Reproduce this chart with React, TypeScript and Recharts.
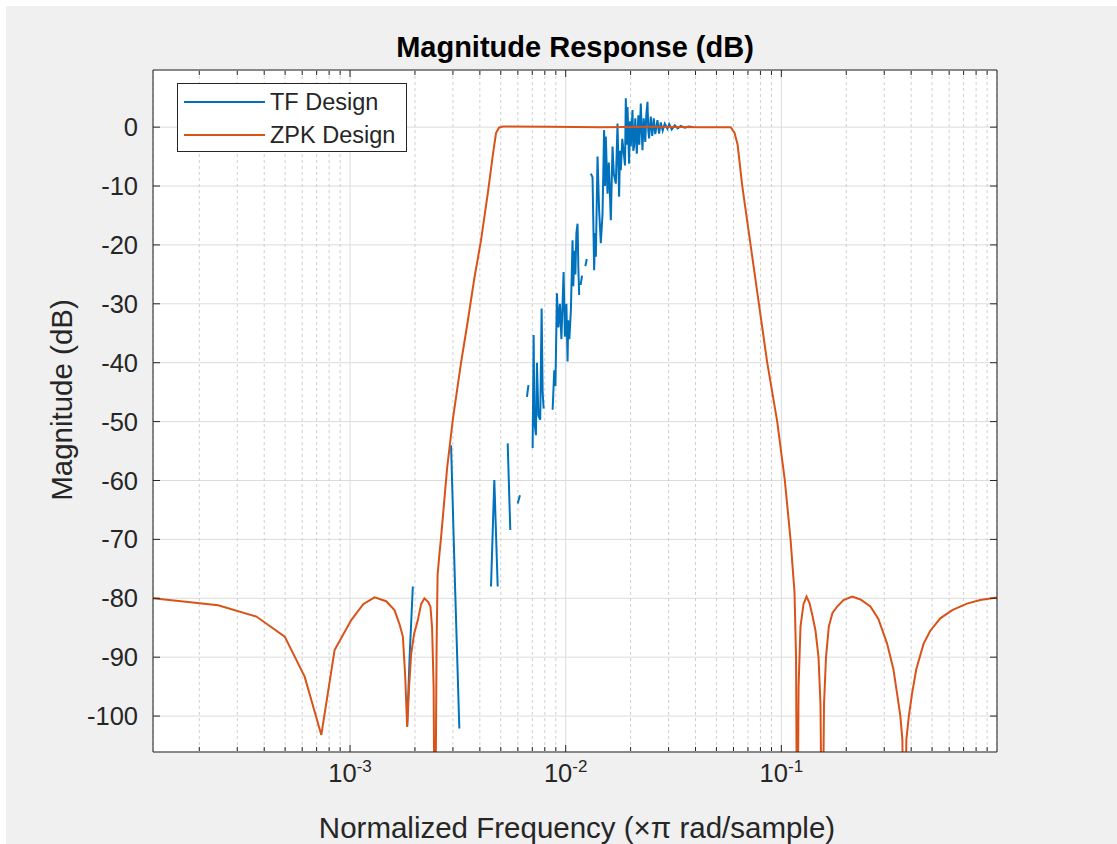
import React from 'react';
import { LineChart, Line, XAxis, YAxis, CartesianGrid, Legend } from 'recharts';

const FONT = '"Liberation Sans", Arial, Helvetica, sans-serif';
const INK = '#262626';
const TF_COLOR = '#0072BD';
const ZPK_COLOR = '#D95319';

// ZPK design: normalized frequency (x pi rad/sample) and magnitude (dB)
const ZPK_FREQ = [
  1.22e-4, 2.445e-4, 3.68e-4, 4.98e-4, 6.16e-4, 7.36e-4, 8.48e-4, 1.013e-3, 1.151e-3, 1.299e-3,
  1.471e-3, 1.607e-3, 1.699e-3, 1.758e-3, 1.801e-3, 1.84e-3, 1.879e-3, 1.92e-3, 1.983e-3, 2.063e-3,
  2.136e-3, 2.213e-3, 2.301e-3, 2.359e-3, 2.402e-3, 2.441e-3, 2.475e-3, 2.52e-3, 2.547e-3, 2.597e-3,
  2.644e-3, 2.818e-3, 2.995e-3, 3.272e-3, 3.514e-3, 3.758e-3, 4.05e-3, 4.363e-3, 4.603e-3, 4.753e-3,
  4.906e-3, 5.121e-3, 8.54e-3, 1.455e-2, 2.48e-2, 4.22e-2, 5.82e-2, 6.07e-2, 6.27e-2, 6.59e-2,
  7.2e-2, 7.87e-2, 8.6e-2, 9.57e-2, 0.1038, 0.1103, 0.1151, 0.117, 0.1185, 0.1202,
  0.1227, 0.1267, 0.1308, 0.1351, 0.1395, 0.144, 0.1487, 0.1519, 0.1547, 0.1577,
  0.1611, 0.166, 0.1726, 0.1815, 0.1941, 0.213, 0.2327, 0.2588, 0.2818, 0.3093,
  0.3307, 0.3441, 0.3564, 0.3641, 0.3719, 0.3799, 0.3902, 0.4037, 0.4226, 0.4568,
  0.4906, 0.5458, 0.6203, 0.7255, 0.8362, 1.0,
];
const ZPK_DB = [
  -80.0, -81.2, -83.1, -86.5, -93.3, -103.2, -88.8, -83.7, -81.0, -79.85,
  -80.5, -82.0, -84.5, -86.5, -93.0, -101.8, -95.0, -89.5, -86.0, -83.7,
  -81.0, -80.0, -80.6, -81.4, -85.0, -95.0, -130, -88.0, -76.0, -72.5,
  -69.6, -58.0, -49.7, -40.0, -33.0, -26.0, -19.2, -11.0, -4.5, -1.0,
  -0.1, 0.1, 0.05, 0, 0.05, 0, 0, -1, -3, -10,
  -20, -30, -40, -50, -60, -70, -79, -90, -130, -95,
  -84.8, -81, -79.7, -80.8, -83, -85.5, -90, -98, -130, -98,
  -90, -84.8, -82.5, -81.4, -80.3, -79.7, -80.2, -81.4, -83.5, -87.7,
  -92, -96.2, -100, -104, -130, -104, -100, -96.2, -92, -87.7,
  -85.5, -83.4, -82, -80.9, -80.3, -79.85,
];

// TF design: null marks a break in the trace
const TF_FREQ = [
  1.84e-3, 1.889e-3, 1.955e-3, 2.5e-3,
  2.941e-3, 3.069e-3, 3.213e-3, 3.8e-3,
  4.505e-3, 4.667e-3, 4.838e-3, 5.1e-3,
  5.383e-3, 5.535e-3, 5.75e-3,
  5.988e-3, 6.138e-3, 6.4e-3,
  6.612e-3, 6.719e-3, 6.9e-3,
  7.027e-3, 7.102e-3, 7.163e-3, 7.278e-3, 7.357e-3, 7.475e-3, 7.619e-3, 7.734e-3, 7.818e-3, 7.901e-3, 8.3e-3,
  8.699e-3, 8.849e-3, 8.962e-3, 9.107e-3, 9.253e-3, 9.401e-3, 9.553e-3, 9.779e-3, 9.915e-3, 1.0075e-2,
  1.0204e-2, 1.0271e-2, 1.04e-2, 1.057e-2, 1.076e-2, 1.085e-2, 1.097e-2, 1.109e-2, 1.121e-2, 1.135e-2,
  1.145e-2, 1.155e-2, 1.165e-2,
  1.173e-2, 1.191e-2, 1.21e-2,
  1.234e-2, 1.253e-2, 1.28e-2,
  1.308e-2, 1.332e-2, 1.355e-2, 1.368e-2, 1.38e-2, 1.405e-2, 1.429e-2, 1.455e-2, 1.482e-2, 1.507e-2,
  1.522e-2, 1.535e-2, 1.563e-2, 1.585e-2, 1.619e-2, 1.649e-2, 1.672e-2, 1.708e-2, 1.739e-2, 1.769e-2,
  1.786e-2, 1.801e-2, 1.83e-2, 1.866e-2, 1.884e-2, 1.9e-2, 1.92e-2, 1.935e-2, 1.968e-2, 1.987e-2,
  2.004e-2, 2.041e-2, 2.058e-2, 2.076e-2, 2.103e-2, 2.137e-2, 2.172e-2, 2.195e-2, 2.23e-2, 2.254e-2,
  2.27e-2, 2.301e-2, 2.339e-2, 2.364e-2, 2.395e-2, 2.415e-2, 2.436e-2, 2.48e-2, 2.52e-2, 2.561e-2,
  2.602e-2, 2.664e-2, 2.71e-2, 2.759e-2, 2.818e-2, 2.879e-2, 2.964e-2, 3.02e-2, 3.102e-2, 3.203e-2,
  3.307e-2, 3.415e-2, 3.564e-2, 3.719e-2, 3.922e-2,
];
const TF_DB = [
  -101.8, -90, -78.0, null,
  -54.0, -78, -102.1, null,
  -78.0, -59.9, -78.0, null,
  -53.7, -68.4, null,
  -63.9, -62.5, null,
  -45.8, -43.8, null,
  -54.5, -35.3, -50, -52.3, -40, -49, -49.7, -30.8, -45, -47.8, null,
  -48.0, -41.3, -44, -28.2, -34, -30, -36, -24.6, -35.6, -30,
  -39.8, -32.8, -36, -31.1, -19.2, -27, -21, -25, -18, -16.4,
  -24, -28.5, null,
  -26.8, -25.2, null,
  -23.6, -22.4, null,
  -7.9, -8.5, -24.3, -18, -22, -5.0, -14.1, -19.7, -14.7, -0.5,
  -10, -1.6, -11.3, -6, -15.8, -3.3, -8, -9.6, 0.6, -11.8,
  -4, -7.3, -2, -5.0, -6.5, 4.9, -3, 3.4, -6.2, 1,
  -3.3, 2.9, -4, -3.3, 1.5, -4.5, 2, -3, 4.0, -1,
  -3.9, 1.5, -2.5, 2, 4.3, -0.5, -1.9, 1.8, -1.5, 1.5,
  -1.2, 1.2, -1.1, 0.8, -0.6, 0.6, -0.3, 0.5, -0.4, 0.3,
  -0.2, 0.2, -0.1, 0.1, 0,
];

const SERIES = [
  { name: 'TF Design', color: TF_COLOR },
  { name: 'ZPK Design', color: ZPK_COLOR },
];

const FREQ_DOMAIN = [1.22e-4, 1];
const DB_DOMAIN = [-106.1, 9.7];
const DECADES = [0.001, 0.01, 0.1];
const MINOR_TICKS = [
  2e-4, 3e-4, 4e-4, 5e-4, 6e-4, 7e-4, 8e-4, 9e-4,
  2e-3, 3e-3, 4e-3, 5e-3, 6e-3, 7e-3, 8e-3, 9e-3,
  2e-2, 3e-2, 4e-2, 5e-2, 6e-2, 7e-2, 8e-2, 9e-2,
  0.2, 0.3, 0.4, 0.5, 0.6, 0.7, 0.8, 0.9,
];
const DB_TICKS = [-100, -90, -80, -70, -60, -50, -40, -30, -20, -10, 0];

const TITLE = 'Magnitude Response (dB)';
const X_LABEL = 'Normalized Frequency (\u00d7\u03c0 rad/sample)';
const Y_LABEL = 'Magnitude (dB)';

// tick marks only, no text
const NoText = () => <g />;

const DecadeTick = (props: any) => {
  const { x, y, payload } = props;
  const exp = Math.round(Math.log10(payload.value));
  return (
    <text x={x} y={y + 28} textAnchor="middle" fill={INK} fontFamily={FONT} fontSize={25.5}>
      <tspan>10</tspan>
      <tspan dy={-10} fontSize={17}>{exp}</tspan>
    </text>
  );
};

const titleLabel = () => (
  <text x={575} y={57} textAnchor="middle" fill="#000" fontFamily={FONT} fontSize={29} fontWeight="bold">
    {TITLE}
  </text>
);

const xLabel = () => (
  <text x={577} y={838} textAnchor="middle" fill={INK} fontFamily={FONT} fontSize={29.5}>
    {X_LABEL}
  </text>
);

const yLabel = () => (
  <text x={72} y={400} transform="rotate(-90, 72, 400)" textAnchor="middle" fill={INK} fontFamily={FONT} fontSize={29.5}>
    {Y_LABEL}
  </text>
);

const renderLegend = () => (
  <div
    style={{
      width: 230,
      height: 69,
      boxSizing: 'border-box',
      border: `1px solid ${INK}`,
      background: '#fff',
      position: 'relative',
      fontFamily: FONT,
      fontSize: 23.5,
      color: INK,
    }}
  >
    {SERIES.map((s, i) => (
      <div
        key={s.name}
        style={{ position: 'absolute', left: 6, top: 8 + i * 33.3, height: 20, display: 'flex', alignItems: 'center' }}
      >
        <div style={{ width: 81, borderTop: `2px solid ${s.color}` }} />
        <span style={{ marginLeft: 5, lineHeight: '20px', whiteSpace: 'nowrap' }}>{s.name}</span>
      </div>
    ))}
  </div>
);

export default function App() {
  const zpkData = ZPK_FREQ.map((f, i) => ({ f, db: ZPK_DB[i] }));
  const tfData = TF_FREQ.map((f, i) => ({ f, db: TF_DB[i] }));
  const freqAxis = {
    dataKey: 'f',
    type: 'number' as const,
    scale: 'log' as const,
    domain: FREQ_DOMAIN,
    allowDataOverflow: true,
    interval: 0 as const,
  };
  const dbAxis = {
    type: 'number' as const,
    domain: DB_DOMAIN,
    allowDataOverflow: true,
    ticks: DB_TICKS,
    interval: 0 as const,
  };
  const inward = { tick: <NoText />, tickLine: { stroke: INK } };

  return (
    <div style={{ position: 'absolute', left: 0, top: 0, width: 1117, height: 844, background: '#fff' }}>
      <div style={{ position: 'absolute', left: 6, top: 6, right: 0, bottom: 0, background: '#f0f0f0' }} />
      <div style={{ position: 'absolute', left: 0, top: 0 }}>
        <LineChart width={1117} height={844} margin={{ top: 70, right: 120, bottom: 0, left: 0 }}>
          <CartesianGrid xAxisId="x" yAxisId="y" stroke="#dcdcdc" fill="#ffffff" />
          <CartesianGrid xAxisId="xMinB" yAxisId="y" horizontal={false} stroke="#cfcfcf" strokeDasharray="3 3" />

          <XAxis
            xAxisId="x"
            {...freqAxis}
            ticks={DECADES}
            height={92}
            tickSize={0}
            tickLine={false}
            axisLine={{ stroke: INK }}
            tick={<DecadeTick />}
            label={xLabel}
          />
          <XAxis xAxisId="xMajB" {...freqAxis} ticks={DECADES} mirror height={1} tickSize={7} axisLine={false} {...inward} />
          <XAxis xAxisId="xMinB" {...freqAxis} ticks={MINOR_TICKS} mirror height={1} tickSize={4} axisLine={false} {...inward} />
          <XAxis xAxisId="xMajT" orientation="top" {...freqAxis} ticks={DECADES} mirror height={1} tickSize={7} axisLine={{ stroke: INK }} {...inward} label={titleLabel} />
          <XAxis xAxisId="xMinT" orientation="top" {...freqAxis} ticks={MINOR_TICKS} mirror height={1} tickSize={4} axisLine={false} {...inward} />

          <YAxis
            yAxisId="y"
            {...dbAxis}
            width={153}
            tickSize={0}
            tickLine={false}
            tickMargin={15}
            axisLine={{ stroke: INK }}
            tick={{ fill: INK, fontSize: 25.5, fontFamily: FONT }}
            label={yLabel}
          />
          <YAxis yAxisId="yL" {...dbAxis} mirror width={1} tickSize={7} axisLine={false} {...inward} />
          <YAxis yAxisId="yR" orientation="right" {...dbAxis} mirror width={1} tickSize={7} axisLine={{ stroke: INK }} {...inward} />

          <Line
            xAxisId="x"
            yAxisId="y"
            data={tfData}
            dataKey="db"
            name="TF Design"
            type="linear"
            stroke={TF_COLOR}
            strokeWidth={2}
            dot={false}
            activeDot={false}
            isAnimationActive={false}
          />
          <Line
            xAxisId="x"
            yAxisId="y"
            data={zpkData}
            dataKey="db"
            name="ZPK Design"
            type="linear"
            stroke={ZPK_COLOR}
            strokeWidth={2}
            dot={false}
            activeDot={false}
            isAnimationActive={false}
          />

          <Legend
            content={renderLegend}
            layout="horizontal"
            verticalAlign="middle"
            align="center"
            wrapperStyle={{ left: 177, top: 83, width: 230, height: 69 }}
          />
        </LineChart>
      </div>
    </div>
  );
}
